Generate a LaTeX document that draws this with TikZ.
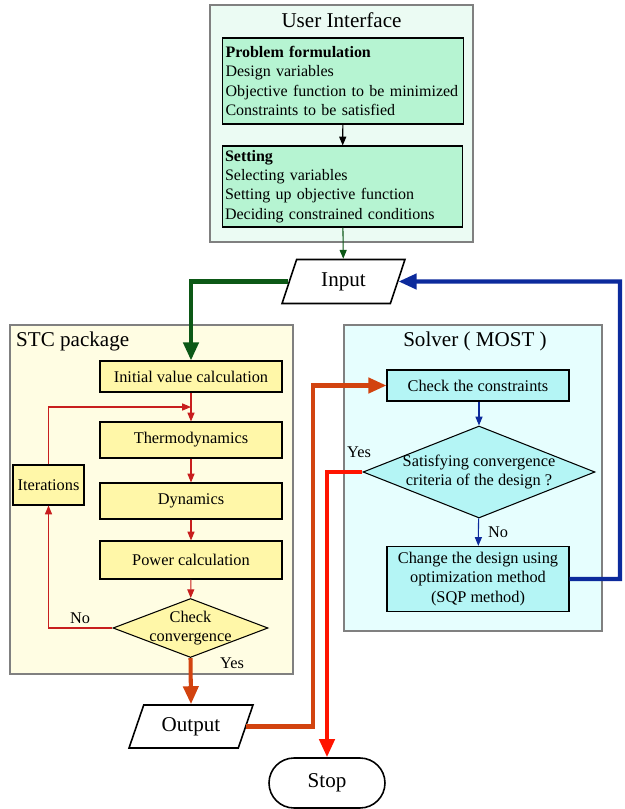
\documentclass[tikz,border=0pt]{standalone}
\usepackage{fontspec}
\setmainfont{Liberation Serif}
\usetikzlibrary{arrows.meta,positioning,shapes.geometric,calc}

\definecolor{uiback}{RGB}{235,251,243}
\definecolor{uigreen}{RGB}{182,244,210}
\definecolor{stcback}{RGB}{255,253,227}
\definecolor{stcyellow}{RGB}{255,247,168}
\definecolor{solback}{RGB}{230,254,254}
\definecolor{solcyan}{RGB}{180,245,245}
\definecolor{framegray}{RGB}{128,128,128}
\definecolor{inputgreen}{RGB}{12,88,22}
\definecolor{loopblue}{RGB}{12,42,156}
\definecolor{rust}{RGB}{210,67,15}
\definecolor{stopred}{RGB}{255,20,0}
\definecolor{loopred}{RGB}{200,30,30}

\begin{document}
\begin{tikzpicture}[x=0.02cm, y=-0.02cm,
    font=\fontsize{9.3}{11}\selectfont,
    frame/.style={draw=framegray, line width=1.1pt},
    grouptitle/.style={font=\fontsize{12}{14}\selectfont},
    uibox/.style={draw, line width=0.6pt, fill=uigreen, text width=4.7cm,
        align=left, inner sep=1.5pt, font=\fontsize{9.1}{11}\selectfont},
    stcbox/.style={draw, line width=0.6pt, fill=stcyellow, minimum width=3.64cm,
        minimum height=0.72cm},
    solbox/.style={draw, line width=0.6pt, fill=solcyan, minimum width=3.64cm,
        align=center},
    decision/.style={diamond, draw, line width=0.6pt, inner sep=0pt},
    io/.style={trapezium, trapezium left angle=64, trapezium right angle=116,
        trapezium stretches body, draw, line width=0.9pt, minimum height=0.88cm,
        font=\fontsize{12}{14}\selectfont},
    thinarrow/.style={line width=0.6pt, -{Triangle[length=5pt,width=4pt]}},
    bigarrow/.style={line width=2.3pt, -{Triangle[length=0.36cm,width=0.3cm]}}
  ]
  \useasboundingbox (0,0) rectangle (625,809);

  % user interface
  \node[frame, fill=uiback, minimum width=5.26cm, minimum height=4.74cm] (ui) at (341.5,123.5) {};
  \node[grouptitle] (uititle) at (341.5,20) {User Interface};
  \node[uibox, minimum width=4.8cm, minimum height=1.72cm] (pf) at (343,81)
    {\textbf{Problem formulation}\\Design variables\\Objective function to be minimized\\Constraints to be satisfied};
  \node[uibox, minimum width=4.7cm, minimum height=1.62cm] (setting) at (342.5,186.5)
    {\textbf{Setting}\\Selecting variables\\Setting up objective function\\Deciding constrained conditions};
  \draw[thinarrow] (pf) -- (setting);

  \node[io, minimum width=2.46cm] (input) at (343.5,281.5) {Input};
  \draw[thinarrow, draw=inputgreen] (setting) -- (input);

  % STC package
  \node[frame, fill=stcback, minimum width=5.66cm, minimum height=6.98cm] (stc) at (151.5,499.5) {};
  \node[grouptitle, anchor=west] (stctitle) at (10,341) {STC package};
  \node[stcbox, minimum height=0.62cm] (init) at (191,376.5) {Initial value calculation};
  \node[stcbox] (thermo) at (191,440) {Thermodynamics};
  \node[stcbox] (dyn) at (191,501) {Dynamics};
  \node[stcbox, minimum height=0.76cm] (power) at (191,560) {Power calculation};
  \node[decision, fill=stcyellow, minimum width=3.1cm, minimum height=1.18cm] (check) at (190.5,628) {};
  \node[align=center] (checktext) at (check.center) {Check\\convergence};
  \node[stcbox, minimum width=1.42cm, minimum height=0.8cm, inner sep=1pt] (iter) at (48.5,485) {Iterations};
  \coordinate (loopjoin) at ($(init.south)!0.5!(thermo.north)$);

  \begin{scope}[draw=loopred]
    \draw[thinarrow] (init) -- (thermo);
    \draw[thinarrow] (thermo) -- (dyn);
    \draw[thinarrow] (dyn) -- (power);
    \draw[thinarrow] (power) -- (check);
    \draw[thinarrow] (iter.north) |- (loopjoin);
    \draw[thinarrow] (check.west) -| (iter.south);
  \end{scope}
  \node (nolabel) at (80,618) {No};
  \node (yeslabel) at (232,663) {Yes};

  \node[io, minimum width=2.48cm, minimum height=0.86cm] (output) at (191,726.5) {Output};

  % solver
  \node[frame, fill=solback, minimum width=5.16cm, minimum height=6.12cm] (solver) at (473,478) {};
  \node[grouptitle] (soltitle) at (475,341) {Solver ( MOST )};
  \node[solbox, minimum height=0.62cm] (constr) at (478,385.5) {Check the constraints};
  \node[decision, fill=solcyan, minimum width=4.64cm, minimum height=1.84cm] (sat) at (479,472) {};
  \node[align=center] (sattext) at (sat.center) {Satisfying convergence\\criteria of the design ?};
  \node[solbox, minimum height=1.24cm] (change) at (478,579)
    {Change the design using\\optimization method\\(SQP method)};
  \begin{scope}[draw=loopblue]
    \draw[thinarrow] (constr.south -| sat.north) -- (sat.north);
    \draw[thinarrow] (sat) -- (change);
  \end{scope}
  \node (yessat) at (359,452) {Yes};
  \node (nosat) at (498,532) {No};

  \node[draw, line width=0.9pt, rounded corners=0.5cm, minimum width=2.32cm,
    minimum height=1cm, font=\fontsize{12}{14}\selectfont] (stop) at (327,783) {Stop};

  % main flow
  \coordinate (bluecorner) at (620,281.5);
  \coordinate (orangecorner) at (313,385.5);
  \draw[bigarrow, draw=inputgreen] (input.west) -| (init.north);
  \draw[bigarrow, draw=loopblue] (change.east) -| (bluecorner) -- (input.east);
  \draw[bigarrow, draw=rust] (check.south) -- (output.north);
  \draw[bigarrow, draw=rust] (output.east) -| (orangecorner) -- (constr.west);
  \draw[bigarrow, draw=stopred] (sat.west) -| (stop.north);
\end{tikzpicture}
\end{document}
